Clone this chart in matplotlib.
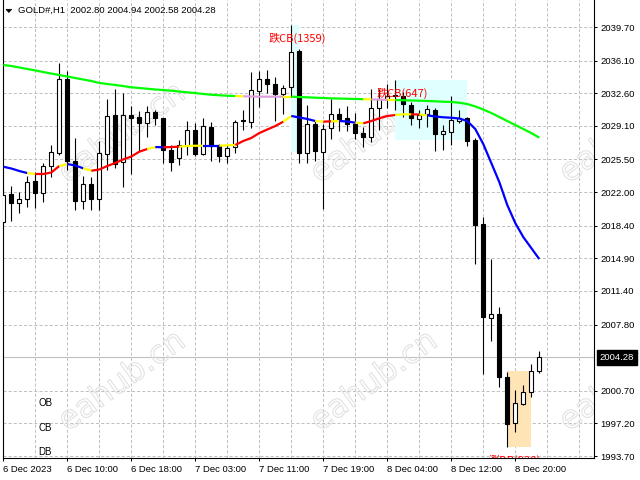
import matplotlib
matplotlib.use("Agg")
import matplotlib.pyplot as plt
import matplotlib.transforms as mtransforms
from matplotlib.patches import Rectangle, PathPatch, Polygon
from matplotlib.textpath import TextPath
from matplotlib.font_manager import FontProperties

plt.rcParams['font.family'] = ['Liberation Sans', 'DejaVu Sans']
plt.rcParams['lines.scale_dashes'] = False

# H1 candles, GOLD#, 6-8 Dec 2023
opens = [2018.79, 2021.79, 2020.80, 2021.22, 2023.19, 2021.87, 2024.80, 2026.22, 2034.12, 2025.33,
         2021.04, 2022.83, 2021.29, 2026.08, 2030.26, 2025.19, 2030.26, 2030.00, 2029.37, 2030.55,
         2029.94, 2026.51, 2025.62, 2026.94, 2028.66, 2026.08, 2028.98, 2026.89, 2025.90, 2026.86,
         2029.78, 2029.55, 2032.89, 2034.09, 2033.56, 2032.52, 2033.23, 2037.09, 2026.22, 2029.27,
         2026.33, 2028.84, 2030.34, 2029.91, 2029.30, 2028.30, 2027.94, 2031.01, 2031.98, 2032.46,
         2032.30, 2031.34, 2029.84, 2030.34, 2030.80, 2028.19, 2028.47, 2029.65, 2029.91, 2027.55,
         2018.54, 2008.55, 2008.93, 2002.22, 1997.21, 1999.33, 2000.59, 2002.80]
highs = [2022.30, 2022.68, 2022.04, 2023.76, 2024.12, 2025.15, 2027.05, 2035.81, 2035.01, 2027.77,
         2023.72, 2023.67, 2027.53, 2031.95, 2033.05, 2032.59, 2031.28, 2030.69, 2031.23, 2030.80,
         2029.97, 2027.00, 2027.58, 2029.62, 2029.46, 2029.97, 2029.48, 2027.15, 2027.00, 2029.76,
         2030.80, 2034.91, 2034.93, 2035.09, 2034.37, 2033.48, 2039.90, 2037.37, 2031.34, 2029.67,
         2029.30, 2031.95, 2031.05, 2031.18, 2030.45, 2029.01, 2033.05, 2033.02, 2033.59, 2034.02,
         2032.73, 2031.66, 2030.80, 2031.34, 2031.00, 2029.19, 2032.30, 2030.80, 2030.02, 2027.80,
         2019.36, 2014.79, 2009.71, 2002.74, 2000.78, 2001.31, 2003.56, 2004.94]
lows = [2018.65, 2018.93, 2019.72, 2020.37, 2020.26, 2020.97, 2023.65, 2025.97, 2024.37, 2020.08,
        2020.15, 2020.13, 2020.08, 2024.37, 2024.61, 2022.58, 2023.94, 2026.40, 2027.94, 2029.19,
        2025.08, 2024.31, 2024.90, 2026.03, 2025.92, 2025.98, 2025.36, 2025.26, 2025.15, 2026.19,
        2028.66, 2028.84, 2031.12, 2032.59, 2029.60, 2030.37, 2032.20, 2025.15, 2025.15, 2025.33,
        2020.15, 2027.69, 2028.55, 2028.60, 2027.69, 2026.80, 2027.40, 2028.71, 2031.01, 2030.80,
        2030.05, 2029.19, 2028.84, 2029.01, 2026.44, 2026.51, 2027.05, 2029.37, 2026.94, 2014.34,
        2002.52, 2006.06, 2001.13, 1994.63, 1996.31, 1999.17, 1999.99, 2002.58]
closes = [2021.69, 2020.80, 2021.22, 2023.11, 2021.93, 2024.80, 2026.26, 2034.12, 2025.28, 2021.07,
          2022.83, 2021.26, 2026.16, 2030.16, 2024.98, 2030.26, 2029.91, 2029.46, 2030.55, 2029.91,
          2026.46, 2025.26, 2027.02, 2028.66, 2026.08, 2029.05, 2026.94, 2025.87, 2026.70, 2029.55,
          2029.65, 2032.94, 2034.09, 2033.56, 2032.52, 2033.13, 2037.05, 2026.22, 2029.27, 2026.40,
          2028.73, 2030.34, 2029.84, 2029.25, 2028.37, 2027.94, 2030.98, 2031.98, 2032.30, 2032.25,
          2031.44, 2029.91, 2030.26, 2030.91, 2028.19, 2028.58, 2029.73, 2029.91, 2027.51, 2018.47,
          2008.64, 2008.93, 2002.14, 1997.10, 1999.35, 2000.59, 2002.78, 2004.28]

# moving averages as drawn on the chart
fast_ma = [2024.72, 2024.53, 2024.26, 2024.04, 2023.94, 2023.94, 2024.10, 2024.80, 2025.01, 2024.85,
           2024.55, 2024.29, 2024.42, 2024.80, 2025.12, 2025.51, 2025.81, 2026.33, 2026.62, 2026.83,
           2026.80, 2026.83, 2026.87, 2026.94, 2026.97, 2026.97, 2026.97, 2026.97, 2027.02, 2027.05,
           2027.48, 2027.80, 2028.33, 2028.71, 2029.08, 2029.55, 2030.16, 2030.00, 2029.84, 2029.62,
           2029.55, 2029.59, 2029.62, 2029.57, 2029.44, 2029.37, 2029.62, 2029.91, 2030.16, 2030.26,
           2030.34, 2030.34, 2030.32, 2030.23, 2030.10, 2030.02, 2029.97, 2029.89, 2029.62, 2028.76,
           2027.15, 2025.12, 2023.08, 2020.61, 2018.68, 2017.18, 2016.00, 2014.82]
slow_ma = [2035.63, 2035.52, 2035.36, 2035.20, 2035.04, 2034.87, 2034.71, 2034.55, 2034.39, 2034.23,
           2034.07, 2033.91, 2033.70, 2033.59, 2033.48, 2033.37, 2033.23, 2033.16, 2033.08, 2033.00,
           2032.94, 2032.87, 2032.78, 2032.70, 2032.62, 2032.52, 2032.44, 2032.38, 2032.33, 2032.30,
           2032.27, 2032.25, 2032.23, 2032.23, 2032.23, 2032.23, 2032.23, 2032.19, 2032.16, 2032.12,
           2032.09, 2032.05, 2032.03, 2032.01, 2031.98, 2031.96, 2031.94, 2031.92, 2031.89, 2031.87,
           2031.85, 2031.82, 2031.80, 2031.77, 2031.73, 2031.69, 2031.66, 2031.58, 2031.44, 2031.18,
           2030.85, 2030.48, 2030.05, 2029.62, 2029.19, 2028.76, 2028.33, 2027.83]
# colour of each segment between two bars (b=blue, y=yellow, r=red, g=green, p=plum)
fast_colors = list("bbbyrrrybbyrrrrrrrybrryyybbyyrrrrrrybbbyryb" "byrrrryyry" "bbbbbbbbbbbbbb")
slow_colors = list("g" * 29 + "y" + "ppppp" + "y" + "g" * 9 + "y" + "pp" + "y" + "g" * 18)
palette = {'b': '#0000FF', 'y': '#FFFF00', 'r': '#FF0000', 'g': '#00FF00', 'p': '#DDA0DD'}

price_ticks = [2039.70, 2036.10, 2032.60, 2029.10, 2025.50, 2022.00, 2018.40, 2014.90,
               2011.40, 2007.80, 2000.70, 1997.20, 1993.70]
time_ticks = [0, 8, 16, 24, 32, 40, 48, 56, 64]
time_labels = ["6 Dec 2023", "6 Dec 10:00", "6 Dec 18:00", "7 Dec 03:00", "7 Dec 11:00",
               "7 Dec 19:00", "8 Dec 04:00", "8 Dec 12:00", "8 Dec 20:00"]
bid = 2004.28

fig = plt.figure(figsize=(6.4, 4.8), dpi=100)
ax = fig.add_axes([2.7 / 640, 22 / 480, 591.3 / 640, 458 / 480])

# grid
for p in price_ticks:
    ax.axhline(p, color='#C0C0C0', lw=0.72, dashes=(2.2, 1.5), zorder=0.5)
for b in range(4, 74, 4):
    ax.axvline(b, color='#C0C0C0', lw=0.72, dashes=(2.2, 1.5), zorder=0.5)
ax.axhline(bid, color='#C0C0C0', lw=0.8, zorder=0.6)

# watermark
wm = TextPath((0, 0), "eahub.cn", size=32, prop=FontProperties(family='DejaVu Sans'))
ext = wm.get_extents()
for cx in [120, 372, 621]:
    for cy in [131, 379]:
        tr = (mtransforms.Affine2D()
              .translate(-(ext.x0 + ext.x1) / 2, -(ext.y0 + ext.y1) / 2)
              .rotate_deg(36).translate(cx, 480 - cy).scale(1 / 100.0))
        ax.add_patch(PathPatch(wm, transform=tr + fig.dpi_scale_trans, fc='none',
                               ec='#E2E2E2', lw=0.8, zorder=0.7))

# boxes
ax.add_patch(Rectangle((36, 2026.3), 1, 2039.9 - 2026.3, fc='#E0FFFF', ec='none', zorder=1))
ax.add_patch(Rectangle((49, 2027.6), 9, 2034.02 - 2027.6, fc='#E0FFFF', ec='none', zorder=1))
ax.add_patch(Rectangle((63, 1994.63), 3, 2002.8 - 1994.63, fc='#FFE4B5', ec='none', zorder=1))

# candles
for i in range(len(opens)):
    o, h, l, c = opens[i], highs[i], lows[i], closes[i]
    ax.vlines(i, l, h, color='black', lw=0.8, zorder=3)
    face = 'white' if c >= o else 'black'
    ax.add_patch(Rectangle((i - 0.26, min(o, c)), 0.52, max(abs(c - o), 0.06),
                           fc=face, ec='black', lw=0.8, zorder=4))

# coloured moving averages
def draw_ma(vals, codes):
    start = 0
    for k in range(1, len(codes) + 1):
        if k == len(codes) or codes[k] != codes[start]:
            ax.plot(range(start, k + 1), vals[start:k + 1], color=palette[codes[start]],
                    lw=1.6, solid_capstyle='butt', zorder=5)
            start = k

draw_ma(slow_ma, slow_colors)
draw_ma(fast_ma, fast_colors)

# signal labels
cjk = ['Noto Sans CJK SC', 'DejaVu Sans']
ax.text(36.8, 2038.5, "跌CB(1359)", color='red', fontsize=8, family=cjk, ha='center', va='center', zorder=7)
ax.text(49.85, 2032.6, "跌CB(647)", color='red', fontsize=8, family=cjk, ha='center', va='center', zorder=7)
ax.text(63.96, 1993.88, "涨DB(920)", color='red', fontsize=8, family=cjk, ha='center', va='top',
        zorder=7, clip_on=True)

for lab, yy in [("OB", 0.1194), ("CB", 0.0648), ("DB", 0.0125)]:
    ax.text(0.0599, yy, lab, transform=ax.transAxes, fontsize=7, color='black', va='center', zorder=7)

# header
tri = [((6 - 2.7) / 591.3, (458 - 9.3) / 458), ((11.7 - 2.7) / 591.3, (458 - 9.3) / 458),
       ((8.85 - 2.7) / 591.3, (458 - 12.5) / 458)]
ax.add_patch(Polygon(tri, closed=True, fc='black', ec='black', lw=0.5, transform=ax.transAxes, zorder=8))
ax.text(0.0264, 0.9771, "GOLD#,H1  2002.80 2004.94 2002.58 2004.28", transform=ax.transAxes,
        fontsize=6.8, va='center', ha='left', zorder=8)

# current price box
blend = mtransforms.blended_transform_factory(ax.transAxes, ax.transData)
ax.text(1.0101, bid, "2004.28", transform=blend, color='white', fontsize=6.8, va='center', ha='left',
        bbox=dict(boxstyle='square,pad=0.28', fc='black', ec='black'), clip_on=False, zorder=9)

ax.set_xlim(-0.075, 73.84)
ax.set_ylim(1993.49, 2042.595)
ax.yaxis.tick_right()
ax.set_yticks(price_ticks)
ax.set_yticklabels([f"{p:.2f}" for p in price_ticks])
ax.set_xticks(time_ticks)
ax.set_xticklabels(time_labels, ha='left')
ax.tick_params(axis='both', length=2.2, width=0.72, labelsize=6.8, color='black')
ax.tick_params(axis='y', pad=2.2)
ax.tick_params(axis='x', pad=2.5)
for side in ['left', 'bottom', 'right']:
    ax.spines[side].set_linewidth(0.8)
    ax.spines[side].set_color('black')
ax.spines['top'].set_visible(False)

fig.savefig("out.png", dpi=100)
